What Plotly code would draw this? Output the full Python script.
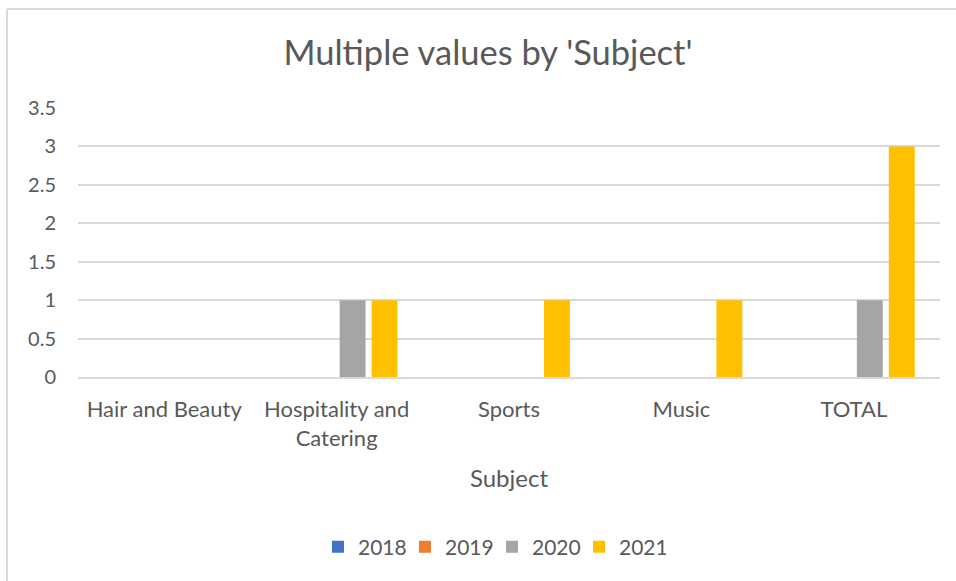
import plotly.graph_objects as go

subjects = ["Hair and Beauty", "Hospitality and<br>Catering", "Sports", "Music", "TOTAL"]
years = ["2018", "2019", "2020", "2021"]
values_2018 = [0, 0, 0, 0, 0]
values_2019 = [0, 0, 0, 0, 0]
values_2020 = [0, 1, 0, 0, 1]
values_2021 = [0, 1, 1, 1, 3]
y_ticks = [0, 0.5, 1, 1.5, 2, 2.5, 3, 3.5]

colors = ["#4472C4", "#ED7D31", "#A5A5A5", "#FFC000"]
series = [values_2018, values_2019, values_2020, values_2021]

FONT = "Lato, 'Open Sans', sans-serif"
TEXT = "#595959"
GRID = "#D9D9D9"

fig = go.Figure()
for year, vals, col in zip(years, series, colors):
    fig.add_trace(go.Bar(
        x=subjects, y=vals, name=year,
        marker=dict(color=col, line=dict(width=0)),
    ))

# plot area in pixels: x 78..940, y 108..377
W, H = 956, 581
L, R, T, B = 78, 16, 108, 204
pw, ph = W - L - R, H - T - B

fig.update_layout(
    width=W, height=H,
    margin=dict(l=L, r=R, t=T, b=B),
    paper_bgcolor="white", plot_bgcolor="white",
    font=dict(family=FONT, color=TEXT),
    barmode="group", bargap=0.258, bargroupgap=0.19,
    title=dict(text="Multiple values by 'Subject'", font=dict(size=34.5, color=TEXT),
               x=488 / W, xref="container", xanchor="center",
               y=1 - 53 / H, yref="container", yanchor="middle"),
    legend=dict(orientation="h", x=(492 - L) / pw, xanchor="center",
                y=(H - B - 547) / ph, yanchor="middle",
                font=dict(size=21, color=TEXT), traceorder="normal",
                itemwidth=30, entrywidth=42, entrywidthmode="pixels"),
    showlegend=True,
)

fig.update_xaxes(
    showgrid=False, showline=True, linecolor=GRID, linewidth=1.5,
    ticks="", tickfont=dict(size=22, color=TEXT), ticklabelstandoff=12,
    title=dict(text="Subject", font=dict(size=24, color=TEXT), standoff=20),
)
fig.update_yaxes(
    range=[0, 3.5], tickvals=y_ticks, showgrid=True, gridcolor=GRID, gridwidth=1.5,
    zeroline=False, showline=False, ticks="",
    tickfont=dict(size=20, color=TEXT), ticklabelstandoff=21,
)

# chart frame edges (top and left visible in the crop)
fig.add_shape(type="line", xref="paper", yref="paper",
              x0=(7 - L) / pw, x1=(W + 5 - L) / pw,
              y0=(H - B - 9) / ph, y1=(H - B - 9) / ph,
              line=dict(color=GRID, width=2))
fig.add_shape(type="line", xref="paper", yref="paper",
              x0=(7 - L) / pw, x1=(7 - L) / pw,
              y0=(H - B - 9) / ph, y1=(H - B - H - 5) / ph,
              line=dict(color=GRID, width=2))

fig.write_html("out.html", config={"displayModeBar": False},
               post_script="document.body.style.margin='0';")
